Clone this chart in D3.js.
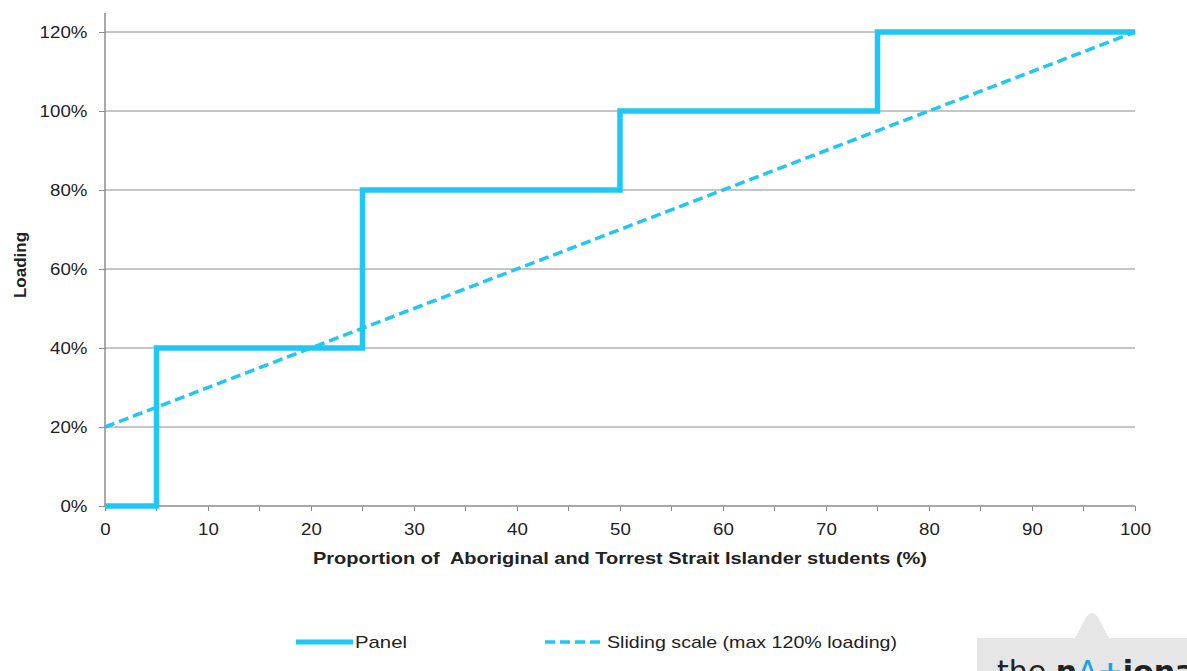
<!DOCTYPE html>
<html>
<head>
<meta charset="utf-8">
<script src="https://cdn.jsdelivr.net/npm/d3@7"></script>
<style>
  body { margin: 0; background: #fff; }
  svg { display: block; font-family: "Liberation Sans", Arial, sans-serif; }
</style>
</head>
<body>
<svg id="chart" width="1187" height="671"></svg>
<script>
// panel loading steps: [proportion %, loading %]
var panelX = [0, 5, 5, 25, 25, 50, 50, 75, 75, 100];
var panelY = [0, 0, 40, 40, 80, 80, 100, 100, 120, 120];
// sliding scale end points
var slideX = [0, 100];
var slideY = [20, 120];
var xTicks = [0, 10, 20, 30, 40, 50, 60, 70, 80, 90, 100];
var xMinor = [5, 15, 25, 35, 45, 55, 65, 75, 85, 95];
var yTicks = [0, 20, 40, 60, 80, 100, 120];
var seriesNames = ['Panel', 'Sliding scale (max 120% loading)'];

(function () {
  var svg = d3.select('#chart');
  var lineColor = '#1fc8f4';
  var plotL = 105, plotR = 1135, plotT = 32, plotB = 506;

  var x = d3.scaleLinear().domain([0, 100]).range([plotL, plotR]);
  var y = d3.scaleLinear().domain([0, 120]).range([plotB, plotT]);

  // gridlines
  svg.append('g').selectAll('line')
    .data(yTicks.filter(function (d) { return d > 0; }))
    .join('line')
    .attr('x1', plotL).attr('x2', plotR)
    .attr('y1', function (d) { return y(d); })
    .attr('y2', function (d) { return y(d); })
    .attr('stroke', '#8c8c8c').attr('stroke-width', 1);

  // y axis
  var yAxis = svg.append('g')
    .attr('transform', 'translate(' + plotL + ',0)')
    .call(d3.axisLeft(y).tickValues(yTicks).tickSize(6).tickPadding(10)
      .tickFormat(function (d) { return d + '%'; }));
  yAxis.select('.domain').remove();
  yAxis.append('line').attr('x1', 0).attr('x2', 0).attr('y1', 13).attr('y2', plotB)
    .attr('stroke', '#8c8c8c').attr('stroke-width', 1.5);

  // x axis
  var xAxis = svg.append('g')
    .attr('transform', 'translate(0,' + plotB + ')')
    .call(d3.axisBottom(x).tickValues(xTicks).tickSize(5).tickPadding(12));
  xAxis.select('.domain').attr('d', 'M' + plotL + ',0H' + plotR);
  svg.append('g')
    .attr('transform', 'translate(0,' + plotB + ')')
    .selectAll('line').data(xMinor).join('line')
    .attr('x1', function (d) { return x(d); }).attr('x2', function (d) { return x(d); })
    .attr('y1', 0).attr('y2', 5)
    .attr('stroke', '#8c8c8c');

  svg.selectAll('.tick line').attr('stroke', '#8c8c8c');
  svg.selectAll('.domain').attr('stroke', '#8c8c8c').attr('stroke-width', 1.5);
  // the original labels are a little wider than Arial, stretch them slightly
  svg.selectAll('.tick text').attr('font-size', 17).attr('fill', '#222')
    .attr('font-family', '"Liberation Sans", Arial, sans-serif')
    .attr('transform', 'scale(1.1,1)');

  // series
  var panelData = panelX.map(function (d, i) { return [d, panelY[i]]; });
  var slideData = slideX.map(function (d, i) { return [d, slideY[i]]; });
  var line = d3.line().x(function (d) { return x(d[0]); }).y(function (d) { return y(d[1]); });

  svg.append('path').datum(slideData).attr('d', line)
    .attr('fill', 'none').attr('stroke', lineColor).attr('stroke-width', 3.5)
    .attr('stroke-dasharray', '10,5');
  svg.append('path').datum(panelData).attr('d', line)
    .attr('fill', 'none').attr('stroke', lineColor).attr('stroke-width', 5.5)
    .attr('stroke-linejoin', 'miter');

  // axis titles
  svg.append('text')
    .attr('transform', 'translate(26,265) rotate(-90)')
    .attr('text-anchor', 'middle').attr('font-size', 17).attr('font-weight', 'bold')
    .attr('fill', '#222').text('Loading');
  svg.append('text')
    .attr('x', 313).attr('y', 564)
    .attr('font-size', 17).attr('font-weight', 'bold').attr('fill', '#222')
    .attr('textLength', 614).attr('lengthAdjust', 'spacingAndGlyphs')
    .style('white-space', 'pre')
    .text('Proportion of  Aboriginal and Torrest Strait Islander students (%)');

  // legend
  var legend = svg.append('g');
  legend.append('line').attr('x1', 296).attr('x2', 353).attr('y1', 642).attr('y2', 642)
    .attr('stroke', lineColor).attr('stroke-width', 5);
  legend.append('text').attr('x', 355).attr('y', 648).attr('font-size', 17)
    .attr('textLength', 52).attr('lengthAdjust', 'spacingAndGlyphs')
    .attr('fill', '#222').text(seriesNames[0]);
  legend.append('line').attr('x1', 545).attr('x2', 600).attr('y1', 642).attr('y2', 642)
    .attr('stroke', lineColor).attr('stroke-width', 3.5).attr('stroke-dasharray', '10,5');
  legend.append('text').attr('x', 607).attr('y', 648).attr('font-size', 17)
    .attr('textLength', 290).attr('lengthAdjust', 'spacingAndGlyphs')
    .attr('fill', '#222').text(seriesNames[1]);

  // logo fragment, bottom right
  var logo = svg.append('g');
  logo.append('path')
    .attr('d', 'M977,638 L1075,638 L1087,616 Q1092,610 1097,616 L1109,638 L1187,638 L1187,671 L977,671 Z')
    .attr('fill', '#e6e6e6');
  var lt = logo.append('text').attr('x', 997).attr('y', 682).attr('font-size', 30)
    .attr('font-family', '"DejaVu Sans", sans-serif');
  lt.append('tspan').attr('fill', '#222').text('the ');
  lt.append('tspan').attr('fill', '#222').attr('font-weight', 'bold').text('n');
  lt.append('tspan').attr('fill', '#1aa3e0').text('A');
  lt.append('tspan').attr('fill', '#1aa3e0').attr('font-weight', 'bold').text('+');
  lt.append('tspan').attr('fill', '#222').attr('font-weight', 'bold').text('iona');
})();
</script>
</body>
</html>
